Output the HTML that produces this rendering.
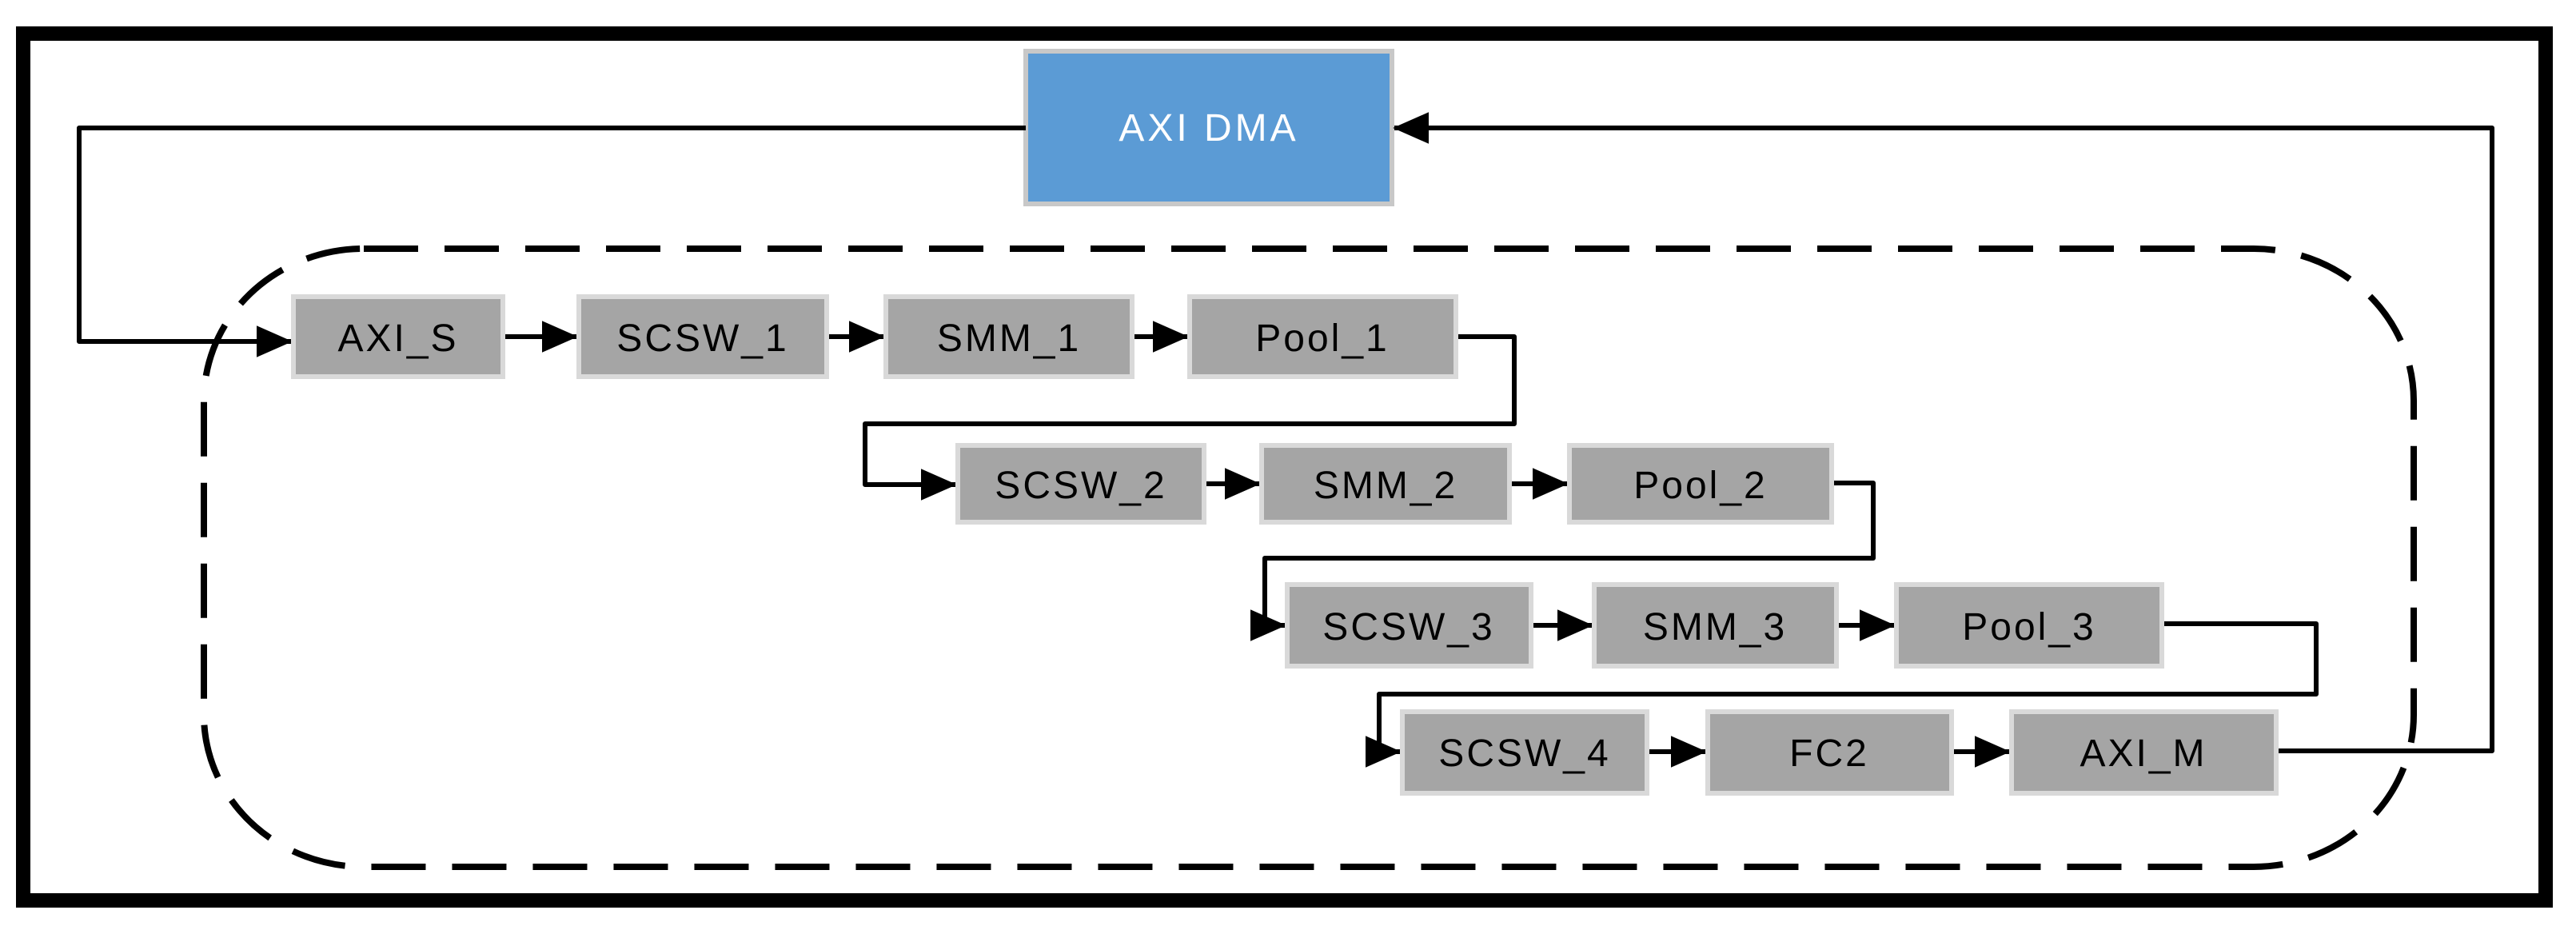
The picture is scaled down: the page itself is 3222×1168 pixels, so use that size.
<!DOCTYPE html>
<html><head><meta charset="utf-8"><style>html,body{margin:0;padding:0;background:#fff}svg{display:block}</style></head>
<body>
<svg width="3222" height="1168" viewBox="0 0 3222 1168" xmlns="http://www.w3.org/2000/svg">
<defs>
<marker id="ar" markerWidth="7.5" markerHeight="6.6" refX="7.2" refY="3.3" orient="auto" markerUnits="strokeWidth"><path d="M0,0 L7.5,3.3 L0,6.6 z" fill="#000"/></marker>
</defs>
<rect x="29" y="42" width="3155" height="1084" fill="none" stroke="#000" stroke-width="18"/>
<rect x="255" y="311" width="2764" height="773" rx="200" ry="190" fill="none" stroke="#000" stroke-width="8" stroke-dasharray="68 33"/>
<rect x="1283" y="64" width="458" height="191" fill="#5b9bd5" stroke="#c8c8c8" stroke-width="6"/>
<text x="1512" y="176" font-family="Liberation Sans, sans-serif" font-size="48" fill="#fff" text-anchor="middle" letter-spacing="4">AXI DMA</text>
<g fill="none" stroke="#000" stroke-width="6" stroke-linejoin="round">
<path d="M1283,160 H99 V427 H364" marker-end="url(#ar)"/>
<path d="M2850,939 H3117 V160 H1744" marker-end="url(#ar)"/>
<path d="M632,421 H721" marker-end="url(#ar)"/>
<path d="M1037,421 H1105" marker-end="url(#ar)"/>
<path d="M1419,421 H1485" marker-end="url(#ar)"/>
<path d="M1824,421 H1894 V530 H1082 V606 H1195" marker-end="url(#ar)"/>
<path d="M1509,605 H1575" marker-end="url(#ar)"/>
<path d="M1891,605 H1960" marker-end="url(#ar)"/>
<path d="M2294,604 H2343 V698 H1582 V782 H1607" marker-end="url(#ar)"/>
<path d="M1918,782 H1991" marker-end="url(#ar)"/>
<path d="M2300,782 H2369" marker-end="url(#ar)"/>
<path d="M2707,780 H2897 V868 H1725 V940 H1751" marker-end="url(#ar)"/>
<path d="M2063,940 H2133" marker-end="url(#ar)"/>
<path d="M2444,940 H2513" marker-end="url(#ar)"/>
</g>
<g fill="#a5a5a5" stroke="#d9d9d9" stroke-width="6">
<rect x="367" y="371" width="262" height="100"/>
<rect x="724" y="371" width="310" height="100"/>
<rect x="1108" y="371" width="308" height="100"/>
<rect x="1488" y="371" width="333" height="100"/>
<rect x="1198" y="557" width="308" height="96"/>
<rect x="1578" y="557" width="310" height="96"/>
<rect x="1963" y="557" width="328" height="96"/>
<rect x="1610" y="731" width="305" height="102"/>
<rect x="1994" y="731" width="303" height="102"/>
<rect x="2372" y="731" width="332" height="102"/>
<rect x="1754" y="890" width="306" height="102"/>
<rect x="2136" y="890" width="305" height="102"/>
<rect x="2516" y="890" width="331" height="102"/>
</g>
<g font-family="Liberation Sans, sans-serif" font-size="48" fill="#000" text-anchor="middle" letter-spacing="3">
<text x="498" y="439">AXI_S</text>
<text x="879" y="439">SCSW_1</text>
<text x="1262" y="439">SMM_1</text>
<text x="1654" y="439">Pool_1</text>
<text x="1352" y="623">SCSW_2</text>
<text x="1733" y="623">SMM_2</text>
<text x="2127" y="623">Pool_2</text>
<text x="1762" y="800">SCSW_3</text>
<text x="2145" y="800">SMM_3</text>
<text x="2538" y="800">Pool_3</text>
<text x="1907" y="958">SCSW_4</text>
<text x="2288" y="958">FC2</text>
<text x="2681" y="958">AXI_M</text>
</g>
</svg>
</body></html>
